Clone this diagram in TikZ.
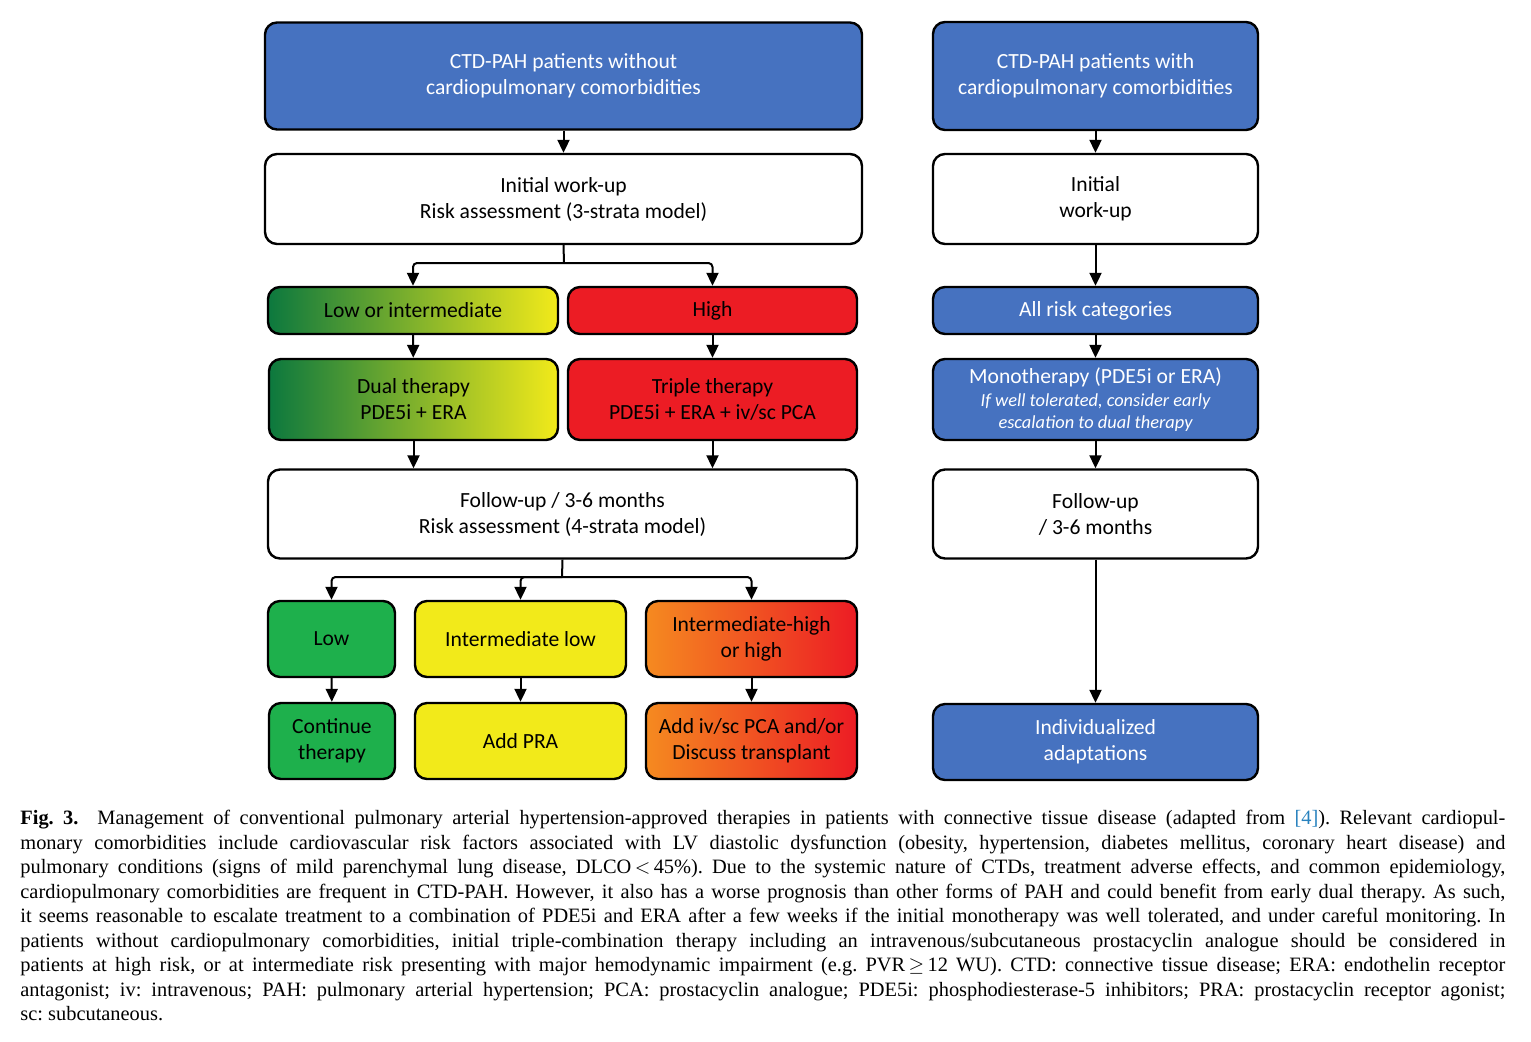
\documentclass[tikz,border=0pt]{standalone}
\usepackage{fontspec}
\setmainfont{Liberation Serif}
\newfontfamily\boxfont{Carlito}
\usepackage{xcolor}
\usepackage{tikz}
\usetikzlibrary{arrows.meta,calc,positioning}

\definecolor{ctdblue}{RGB}{70,114,192}
\definecolor{riskred}{RGB}{236,28,36}
\definecolor{riskgreen}{RGB}{30,176,76}
\definecolor{darkgreen}{RGB}{12,120,62}
\definecolor{midgreen}{RGB}{150,200,62}
\definecolor{riskyellow}{RGB}{242,234,26}
\definecolor{riskorange}{RGB}{245,138,32}
\definecolor{refblue}{RGB}{40,130,190}
\newcommand{\smallit}{\fontsize{9.2}{11}\selectfont\itshape}

\begin{document}
\begin{tikzpicture}[x=0.5pt,y=-0.5pt,
  box/.style={draw=black,line width=1.2pt,rounded corners=6pt,align=center,
    inner sep=0pt,font=\boxfont\fontsize{10.8}{13}\selectfont},
  sz/.style 2 args={minimum width=#1*0.5pt,minimum height=#2*0.5pt},
  bluebox/.style={box,fill=ctdblue,text=white},
  whitebox/.style={box,fill=white},
  redbox/.style={box,fill=riskred},
  greenbox/.style={box,fill=riskgreen},
  yellowbox/.style={box,fill=riskyellow},
  lowbox/.style={box,left color=darkgreen,middle color=midgreen,right color=riskyellow},
  highbox/.style={box,left color=riskorange,middle color=riskred!80!riskorange,right color=riskred},
  arr/.style={line width=1pt,-{Triangle[width=6pt,length=6.5pt]}},
  ln/.style={line width=1pt,rounded corners=2pt}]
  \useasboundingbox (0,0) rectangle (1531,1041);

  % Patients without comorbidities
  \node[bluebox,sz={597}{107}] (noCom) at (563.5,76)
    {CTD-PAH patients without\\cardiopulmonary comorbidities};
  \node[whitebox,sz={597}{90}] (workup) at (563.5,199)
    {Initial work-up\\Risk assessment (3-strata model)};
  % Risk strata
  \node[lowbox,sz={290}{47}] (lowInt) at (413,310.5) {Low or intermediate};
  \node[redbox,sz={289}{47}] (high) at (712.5,310.5) {High};
  \node[lowbox,sz={289}{81}] (dual) at (413.5,399.5) {Dual therapy\\PDE5i + ERA};
  \node[redbox,sz={289}{81}] (triple) at (712.5,399.5)
    {Triple therapy\\PDE5i + ERA + iv/sc PCA};
  % Follow-up
  \node[whitebox,sz={589}{89}] (followup) at (562.5,514)
    {Follow-up / 3-6 months\\Risk assessment (4-strata model)};
  \node[greenbox,sz={127}{76}] (low) at (331.5,639) {Low};
  \node[yellowbox,sz={211}{76}] (intLow) at (520.5,639) {Intermediate low};
  \node[highbox,sz={211}{76}] (intHigh) at (751.5,639)
    {Intermediate-high\\or high};
  \node[greenbox,sz={126}{76}] (cont) at (332,741) {Continue\\therapy};
  \node[yellowbox,sz={211}{76}] (addPRA) at (520.5,741) {Add PRA};
  \node[highbox,sz={211}{76}] (addPCA) at (751.5,741)
    {Add iv/sc PCA and/or\\Discuss transplant};

  % Patients with comorbidities
  \node[bluebox,sz={325}{108}] (withCom) at (1095.5,76)
    {CTD-PAH patients with\\cardiopulmonary comorbidities};
  \node[whitebox,sz={325}{90}] (workupR) at (1095.5,199) {Initial\\work-up};
  \node[bluebox,sz={325}{47}] (allRisk) at (1095.5,310.5) {All risk categories};
  \node[bluebox,sz={325}{81}] (mono) at (1095.5,399.5)
    {Monotherapy (PDE5i or ERA)\\[-1.5pt]
     {\smallit If well tolerated, consider early}\\[-2pt]
     {\smallit escalation to dual therapy}};
  \node[whitebox,sz={325}{89}] (followR) at (1095.5,514) {Follow-up\\/ 3-6 months};
  \node[bluebox,sz={325}{76}] (indiv) at (1095.5,742)
    {Individualized\\adaptations};

  % Connectors, left
  \coordinate (split1) at (564,263);
  \coordinate (split2) at (562,577);
  \draw[arr] (noCom) -- (workup);
  \draw[ln] (workup.south) -- (split1);
  \draw[arr,rounded corners=2pt] (split1) -| (lowInt.north);
  \draw[arr,rounded corners=2pt] (split1) -| (high.north);
  \draw[arr] (lowInt) -- (dual);
  \draw[arr] (high) -- (triple);
  \draw[arr] (dual.south) -- (dual.south |- followup.north);
  \draw[arr] (triple.south) -- (triple.south |- followup.north);
  \draw[ln] (followup.south) -- (split2);
  \draw[arr,rounded corners=2pt] (split2) -| (low.north);
  \draw[arr,rounded corners=2pt] (split2) -| (intLow.north);
  \draw[arr,rounded corners=2pt] (split2) -| (intHigh.north);
  \draw[arr] (low) -- (cont);
  \draw[arr] (intLow) -- (addPRA);
  \draw[arr] (intHigh) -- (addPCA);

  % Connectors, right
  \draw[arr] (withCom) -- (workupR);
  \draw[arr] (workupR) -- (allRisk);
  \draw[arr] (allRisk) -- (mono);
  \draw[arr] (mono) -- (followR);
  \draw[arr] (followR) -- (indiv);

  % Caption
  \node[anchor=north west,inner sep=0pt,text width=742.5pt,align=justify,
    font=\fontsize{10.2}{12.25}\selectfont\frenchspacing] (caption) at (20,810)
   {\textbf{Fig.~3.}\ \ Management of conventional pulmonary arterial hypertension-approved therapies in patients with connective tissue disease (adapted from \textcolor{refblue}{[4]}). Relevant cardiopul-\linebreak
   monary comorbidities include cardiovascular risk factors associated with LV diastolic dysfunction (obesity, hypertension, diabetes mellitus, coronary heart disease) and\linebreak
   pulmonary conditions (signs of mild parenchymal lung disease, DLCO\,$<$\,45\%). Due to the systemic nature of CTDs, treatment adverse effects, and common epidemiology,\linebreak
   cardiopulmonary comorbidities are frequent in CTD-PAH. However, it also has a worse prognosis than other forms of PAH and could benefit from early dual therapy. As such,\linebreak
   it seems reasonable to escalate treatment to a combination of PDE5i and ERA after a few weeks if the initial monotherapy was well tolerated, and under careful monitoring. In\linebreak
   patients without cardiopulmonary comorbidities, initial triple-combination therapy including an intravenous/subcutaneous prostacyclin analogue should be considered in\linebreak
   patients at high risk, or at intermediate risk presenting with major hemodynamic impairment (e.g. PVR\,$\geq$\,12 WU). CTD: connective tissue disease; ERA: endothelin receptor\linebreak
   antagonist; iv: intravenous; PAH: pulmonary arterial hypertension; PCA: prostacyclin analogue; PDE5i: phosphodiesterase-5 inhibitors; PRA: prostacyclin receptor agonist;\linebreak
   sc: subcutaneous.};
\end{tikzpicture}
\end{document}
